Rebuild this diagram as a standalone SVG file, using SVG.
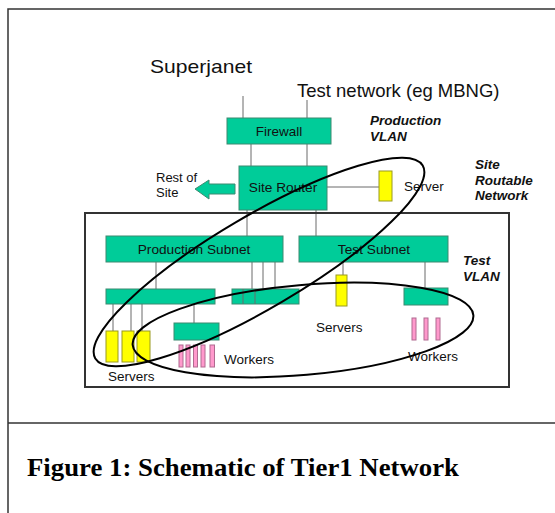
<svg xmlns="http://www.w3.org/2000/svg" width="555" height="513" viewBox="0 0 555 513">
<style>
.bx{fill:#00CC99;stroke:#3d8a70;stroke-width:1}
.ys{fill:#FFFF00;stroke:#9a9a20;stroke-width:1}
.pk{fill:#FF99CC;stroke:#b06a90;stroke-width:1}
.ln{stroke:#6a6a6a;stroke-width:1;fill:none}
.t{font-family:"Liberation Sans",Arial,sans-serif;fill:#111}
.bi{font-family:"Liberation Sans",Arial,sans-serif;font-weight:bold;font-style:italic;font-size:13.5px;fill:#111}
.el{fill:none;stroke:#000;stroke-width:2}
</style>
<rect width="555" height="513" fill="#fff"/>
<g id="page-frame" fill="none" stroke="#333" stroke-width="1.5">
<path d="M8 513 V9 H555"/>
<path d="M8 423 H555"/>
</g>
<g id="connectors" class="ln">
<line x1="243" y1="96" x2="243" y2="118"/>
<line x1="307" y1="100" x2="307" y2="118"/>
<line x1="251" y1="144" x2="251" y2="166"/>
<line x1="307" y1="144" x2="307" y2="166"/>
<line x1="327" y1="187" x2="379" y2="187"/>
<line x1="247" y1="210" x2="247" y2="236"/>
<line x1="316" y1="210" x2="316" y2="236"/>
<line x1="156" y1="262" x2="156" y2="289"/>
<line x1="252" y1="262" x2="252" y2="289"/>
<line x1="263" y1="262" x2="263" y2="289"/>
<line x1="275" y1="262" x2="275" y2="289"/>
<line x1="113" y1="304" x2="113" y2="331"/>
<line x1="131" y1="304" x2="131" y2="331"/>
<line x1="142" y1="304" x2="142" y2="331"/>
<line x1="194" y1="304" x2="194" y2="323"/>
<line x1="343" y1="262" x2="343" y2="275"/>
<line x1="425" y1="262" x2="425" y2="288"/>
</g>
<g id="site-frame"><rect x="85" y="213" width="424" height="174" fill="none" stroke="#333" stroke-width="2"/></g>
<g id="superjanet"><text class="t" x="150" y="73" font-size="19" textLength="102" lengthAdjust="spacingAndGlyphs">Superjanet</text></g>
<g id="test-network"><text class="t" x="297" y="97" font-size="18.5">Test network (eg MBNG)</text></g>
<g id="firewall"><rect class="bx" x="227" y="118" width="104" height="26"/><text class="t" x="279" y="135.5" font-size="13.5" text-anchor="middle">Firewall</text></g>
<g id="site-router"><rect class="bx" x="239" y="166" width="88" height="44"/><text class="t" x="283" y="192" font-size="13.7" text-anchor="middle">Site Router</text></g>
<g id="rest-of-site">
<path class="bx" d="M195 189 L209 180 V184 H235 V194 H209 V199 Z"/>
<text class="t" x="156" y="182" font-size="13">Rest of</text>
<text class="t" x="156" y="197" font-size="13">Site</text>
</g>
<g id="server"><rect class="ys" x="379" y="171" width="13" height="30"/><text class="t" x="404" y="191" font-size="13.5">Server</text></g>
<g id="production-vlan-label"><text class="bi" x="370" y="125">Production</text><text class="bi" x="370" y="141">VLAN</text></g>
<g id="site-routable-label"><text class="bi" x="475" y="169">Site</text><text class="bi" x="475" y="184.5">Routable</text><text class="bi" x="475" y="200">Network</text></g>
<g id="production-subnet"><rect class="bx" x="106" y="236" width="177" height="26"/><text class="t" x="194" y="253.5" font-size="13.7" text-anchor="middle">Production Subnet</text></g>
<g id="test-subnet"><rect class="bx" x="299" y="236" width="149" height="26"/><text class="t" x="374" y="253.5" font-size="13.7" text-anchor="middle">Test Subnet</text></g>
<g id="test-vlan-label"><text class="bi" x="463" y="265">Test</text><text class="bi" x="463" y="281">VLAN</text></g>
<g id="switch-1"><rect class="bx" x="106" y="289" width="109" height="15"/></g>
<g id="switch-2"><rect class="bx" x="232" y="289" width="67" height="15"/><line class="ln" x1="243" y1="289" x2="243" y2="304"/><line class="ln" x1="255" y1="289" x2="255" y2="304"/></g>
<g id="prod-servers">
<rect class="ys" x="106" y="331" width="12" height="31"/>
<rect class="ys" x="122" y="331" width="12" height="31"/>
<rect class="ys" x="137" y="331" width="13" height="31"/>
<text class="t" x="108" y="381" font-size="13.5">Servers</text>
</g>
<g id="prod-workers-switch"><rect class="bx" x="174" y="323" width="45" height="17"/></g>
<g id="prod-workers">
<rect class="pk" x="179" y="345" width="4" height="22"/>
<rect class="pk" x="186" y="345" width="4" height="22"/>
<rect class="pk" x="193.5" y="345" width="4" height="22"/>
<rect class="pk" x="201" y="345" width="4" height="22"/>
<rect class="pk" x="210" y="345" width="4.5" height="22"/>
<text class="t" x="224" y="363.5" font-size="13.5">Workers</text>
</g>
<g id="test-server"><rect class="ys" x="336" y="275" width="11" height="31"/><text class="t" x="316" y="332" font-size="13.5">Servers</text></g>
<g id="test-workers-switch"><rect class="bx" x="404" y="288" width="44" height="17"/></g>
<g id="test-workers">
<rect class="pk" x="412" y="318" width="4" height="22"/>
<rect class="pk" x="424" y="318" width="4" height="22"/>
<rect class="pk" x="436" y="318" width="4" height="22"/>
<text class="t" x="408" y="361" font-size="13.5">Workers</text>
</g>
<g id="vlan-ellipses">
<ellipse class="el" cx="259" cy="262" rx="190" ry="46" transform="rotate(-30.5 259 262)"/>
<ellipse class="el" cx="303" cy="330" rx="171" ry="45" transform="rotate(-5 303 330)"/>
</g>
<g id="caption"><text x="27" y="476" font-family="'Liberation Serif','Times New Roman',serif" font-weight="bold" font-size="26" textLength="432" lengthAdjust="spacingAndGlyphs" fill="#000">Figure 1: Schematic of Tier1 Network</text></g>
</svg>
